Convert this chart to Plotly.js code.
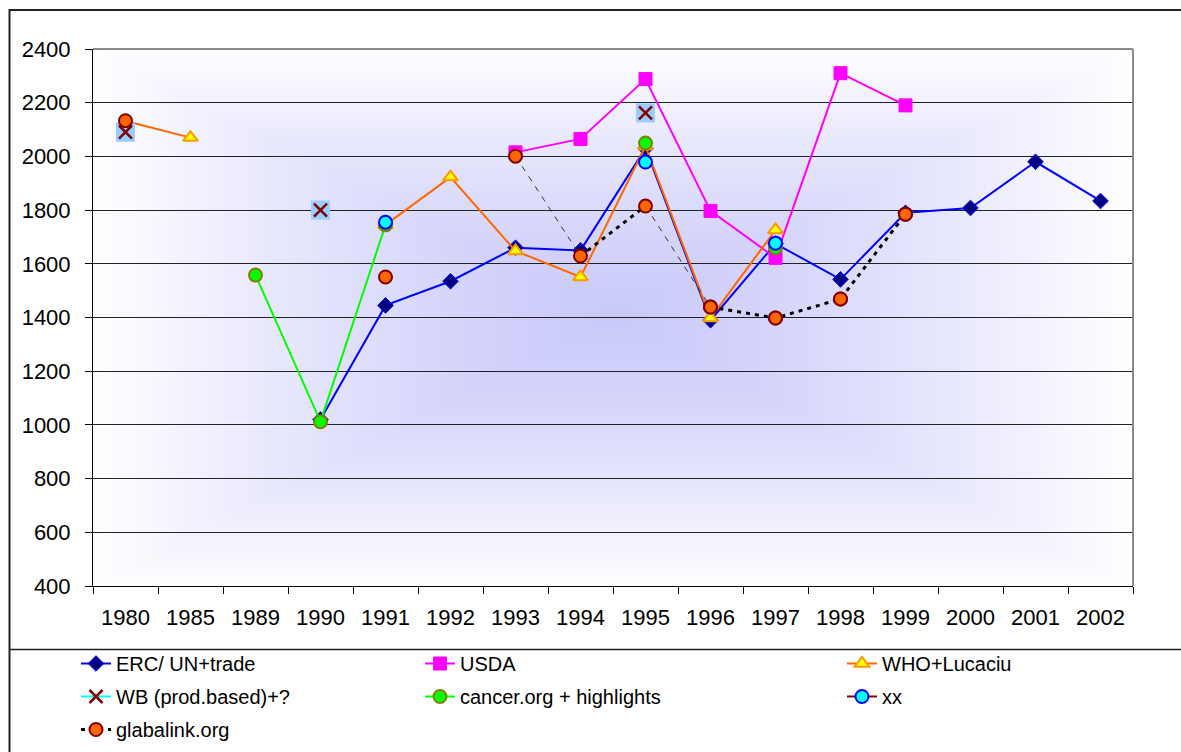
<!DOCTYPE html>
<html><head><meta charset="utf-8">
<script src="https://cdn.plot.ly/plotly-3.0.1.min.js"></script>
<style>body{margin:0;background:#fff}#chart{width:1181px;height:752px}</style>
</head><body><div id="chart"></div>
<script>
const categories = ['1980','1985','1989','1990','1991','1992','1993','1994','1995','1996','1997','1998','1999','2000','2001','2002'];
const ercUN   = [null,null,null,1020,1445,1535,1660,1650,2030,1390,1675,1542,1790,1808,1980,1834];
const usda    = [null,null,null,null,null,null,2015,2065,2288,1797,1622,2310,2190,null,null,null];
const whoLuc  = [2132,2070,null,null,1745,1923,1648,1551,2038,1398,1726,null,null,null,null,null];
const wbProd  = [2090,null,null,1800,null,null,null,null,2162,null,null,null,null,null,null,null];
const cancerOrg = [null,null,1558,1012,1745,null,null,null,2050,null,1660,null,null,null,null,null];
const xx      = [null,null,null,null,1755,null,null,null,1979,null,1677,null,null,null,null,null];
const glabalink = [2133,null,null,null,1551,null,2001,1629,1815,1439,1398,1469,1785,null,null,null];

const seriesNames = ['ERC/ UN+trade','USDA','WHO+Lucaciu','WB (prod.based)+?','cancer.org + highlights','xx','glabalink.org'];

function seg(vals, from, to){
  const a = categories.indexOf(from), b = categories.indexOf(to);
  return vals.map((v,i)=> (i>=a && i<=b) ? v : null);
}

function gradientURL(){
  const w=260,h=134;
  const c=document.createElement('canvas'); c.width=w; c.height=h;
  const ctx=c.getContext('2d'); const img=ctx.createImageData(w,h);
  for(let y=0;y<h;y++){for(let x=0;x<w;x++){
    const nx=Math.abs((x+0.5)/w*2-1), ny=Math.abs((y+0.5)/h*2-1);
    let t=Math.min(1,Math.max(nx,ny)); t=Math.pow(t,1.3);
    const i=(y*w+x)*4;
    img.data[i]=Math.round(202+(255-202)*t);
    img.data[i+1]=Math.round(202+(255-202)*t);
    img.data[i+2]=Math.round(250+(255-250)*t);
    img.data[i+3]=255;
  }}
  ctx.putImageData(img,0,0);
  return c.toDataURL('image/png');
}

const F = 'Liberation Sans, Arial, sans-serif';
const traces = [
  {name:seriesNames[0], x:categories, y:ercUN, mode:'lines+markers', legend:'legend', legendgroup:'g1',
   line:{color:'#0000FF',width:2}, marker:{symbol:'diamond',size:12,color:'#000080',line:{color:'#0000FF',width:1}}},
  {name:seriesNames[1], x:categories, y:usda, mode:'lines+markers', legend:'legend2', legendgroup:'g2',
   line:{color:'#FF00FF',width:2}, marker:{symbol:'square',size:13,color:'#FF00FF',line:{color:'#FF00FF',width:1}}},
  {name:seriesNames[2], x:categories, y:whoLuc, mode:'lines+markers', legend:'legend3', legendgroup:'g3',
   line:{color:'#FF6600',width:2}, marker:{symbol:'triangle-up',size:13,color:'#FFFF00',line:{color:'#FF9900',width:2}}},
  {name:'wbbg', x:categories, y:wbProd, mode:'markers', legend:'legend', legendgroup:'g4', showlegend:false, hoverinfo:'skip',
   marker:{symbol:'square',size:19,color:'#99CCFF',line:{width:0}}},
  {name:seriesNames[3], x:categories, y:wbProd, mode:'lines+markers', legend:'legend', legendgroup:'g4',
   line:{color:'#00FFFF',width:2}, marker:{symbol:'x-thin',size:13,color:'#800000',line:{color:'#800000',width:2.5}}},
  {name:seriesNames[4], x:categories, y:cancerOrg, mode:'lines+markers', legend:'legend2', legendgroup:'g5',
   line:{color:'#00FF00',width:2}, marker:{symbol:'circle',size:13,color:'#00FF00',line:{color:'#808000',width:2}}},
  {name:seriesNames[5], x:categories, y:xx, mode:'lines+markers', legend:'legend3', legendgroup:'g6',
   line:{color:'#800000',width:2}, marker:{symbol:'circle',size:13,color:'#00FFFF',line:{color:'#0000FF',width:2}}},
  {name:'glab-thin1', x:categories, y:seg(glabalink,'1993','1994'), mode:'lines', legend:'legend', legendgroup:'g7', showlegend:false, hoverinfo:'skip',
   line:{color:'#333333',width:1,dash:'6px,6px'}},
  {name:'glab-thin2', x:categories, y:seg(glabalink,'1995','1996'), mode:'lines', legend:'legend', legendgroup:'g7', showlegend:false, hoverinfo:'skip',
   line:{color:'#333333',width:1,dash:'6px,6px'}},
  {name:'glab-thick1', x:categories, y:seg(glabalink,'1994','1995'), mode:'lines', legend:'legend', legendgroup:'g7', showlegend:false, hoverinfo:'skip',
   line:{color:'#000000',width:3,dash:'4px,5px'}},
  {name:seriesNames[6], x:categories, y:seg(glabalink,'1996','1999'), mode:'lines+markers', legend:'legend', legendgroup:'g7',
   line:{color:'#000000',width:3,dash:'4px,5px'}, marker:{symbol:'circle',size:13,color:'#FF6600',line:{color:'#800000',width:2}}},
  {name:'glab-markers', x:categories, y:glabalink, mode:'markers', legend:'legend', legendgroup:'g7', showlegend:false,
   marker:{symbol:'circle',size:13,color:'#FF6600',line:{color:'#800000',width:2}}}
];

// pixel -> paper helpers (plot area: x 93..1133, y 49..586)
const px = v => (v-93)/1040, py = v => (586-v)/537;

const legBase = {orientation:'v', bgcolor:'rgba(0,0,0,0)', borderwidth:0, font:{family:F,size:20,color:'#000'},
  xanchor:'left', yanchor:'top', y:py(644), traceorder:'grouped', tracegroupgap:4};

const layout = {
  width:1181, height:752,
  margin:{l:93,r:48,t:49,b:166,autoexpand:false},
  paper_bgcolor:'#ffffff', plot_bgcolor:'rgba(0,0,0,0)',
  font:{family:F,size:22,color:'#000'},
  showlegend:true,
  xaxis:{type:'category', categoryorder:'array', categoryarray:categories, range:[-0.5,15.5],
    showline:true, linecolor:'#000', linewidth:1, ticks:'outside', ticklen:7, tickcolor:'#000', tickson:'boundaries',
    showgrid:false, zeroline:false, tickfont:{family:F,size:22,color:'#000'}, ticklabelstandoff:12, fixedrange:true},
  yaxis:{range:[400,2400], dtick:200, tick0:400, showgrid:true, gridcolor:'#222', gridwidth:1,
    showline:true, linecolor:'#000', linewidth:1, ticks:'outside', ticklen:7, tickcolor:'#000', zeroline:false,
    tickfont:{family:F,size:22,color:'#000'}, ticklabelstandoff:10, fixedrange:true},
  legend:Object.assign({}, legBase, {x:px(76)}),
  legend2:Object.assign({}, legBase, {x:px(420)}),
  legend3:Object.assign({}, legBase, {x:px(842)}),
  images:[{source:gradientURL(), xref:'paper', yref:'paper', x:0, y:1, sizex:1, sizey:1,
    sizing:'stretch', xanchor:'left', yanchor:'top', layer:'below'}],
  shapes:[
    {type:'line', xref:'paper', yref:'paper', x0:0, x1:1, y0:1, y1:1, line:{color:'#8a8a8a',width:2}},
    {type:'line', xref:'paper', yref:'paper', x0:1, x1:1, y0:0, y1:1, line:{color:'#8a8a8a',width:2}},
    {type:'rect', xref:'paper', yref:'paper', x0:px(9.5), x1:px(1200), y0:py(10), y1:py(780), line:{color:'#222',width:2}},
    {type:'line', xref:'paper', yref:'paper', x0:px(9.5), x1:px(1200), y0:py(649.5), y1:py(649.5), line:{color:'#222',width:1.5}}
  ]
};

Plotly.newPlot('chart', traces, layout, {displayModeBar:false, staticPlot:true});
</script></body></html>
